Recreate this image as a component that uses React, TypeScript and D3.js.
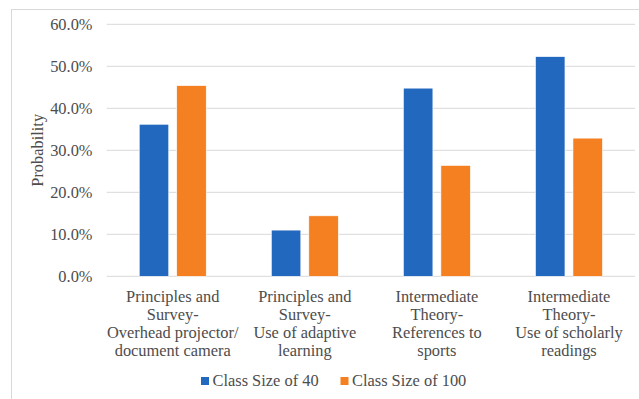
import * as d3 from "d3";

const categories: string[][] = [
  ["Principles and", "Survey-", "Overhead projector/", "document camera"],
  ["Principles and", "Survey-", "Use of adaptive", "learning"],
  ["Intermediate", "Theory-", "References to", "sports"],
  ["Intermediate", "Theory-", "Use of scholarly", "readings"],
];
const seriesNames = ["Class Size of 40", "Class Size of 100"];
const size40 = [0.362, 0.11, 0.448, 0.523];
const size100 = [0.454, 0.144, 0.264, 0.329];
const yTicks = [0, 0.1, 0.2, 0.3, 0.4, 0.5, 0.6];
const colors = ["#2368BF", "#F58022"];

const W = 639;
const H = 399;
const textColor = "#4d4d4d";
const fontStyle = { fontFamily: "'Liberation Serif', 'Times New Roman', serif", fontSize: "16.4px" };

export default function App() {
  const keys = categories.map((_, i) => String(i));
  const x = d3.scaleBand<string>().domain(keys).range([106.7, 635]);
  const x1 = d3.scaleBand<string>().domain(seriesNames).range([0, 67]).paddingInner(0.213);
  const y = d3.scaleLinear().domain([0, 0.6]).range([276.3, 24.3]);
  const fmt = d3.format(".1%");
  const values = [size40, size100];

  return (
    <svg width={W} height={H} style={{ position: "absolute", left: 0, top: 0, background: "#fff" }}>
      <rect x={11.5} y={9.5} width={W} height={H} fill="#fff" stroke="#d9d9d9" />
      {yTicks.map((t) => (
        <g key={t}>
          <line x1={106.7} x2={635} y1={y(t)} y2={y(t)} stroke="#d9d9d9" strokeWidth={1} />
          <text x={92.5} y={y(t) + 5.5} textAnchor="end" style={fontStyle} fill={textColor}>
            {fmt(t)}
          </text>
        </g>
      ))}
      <text
        transform={`translate(43,${(y(0) + y(0.6)) / 2}) rotate(-90)`}
        textAnchor="middle"
        style={fontStyle}
        fill={textColor}
      >
        Probability
      </text>
      {keys.map((k, i) => {
        const gx = x(k)! + x.bandwidth() / 2 - 33.5;
        return (
          <g key={k}>
            {seriesNames.map((s, j) => (
              <rect
                key={s}
                x={gx + x1(s)!}
                y={y(values[j][i])}
                width={x1.bandwidth()}
                height={y(0) - y(values[j][i])}
                fill={colors[j]}
                stroke="#fff"
                strokeWidth={0.6}
              />
            ))}
            <text textAnchor="middle" style={fontStyle} fill={textColor}>
              {categories[i].map((line, li) => (
                <tspan key={li} x={x(k)! + x.bandwidth() / 2} y={301.5 + li * 18.3}>
                  {line}
                </tspan>
              ))}
            </text>
          </g>
        );
      })}
      {seriesNames.map((s, j) => {
        const lx = j === 0 ? 201 : 340.5;
        return (
          <g key={s}>
            <rect x={lx} y={377} width={8} height={8} fill={colors[j]} />
            <text x={lx + 11.5} y={386} style={fontStyle} fill={textColor}>
              {s}
            </text>
          </g>
        );
      })}
    </svg>
  );
}
